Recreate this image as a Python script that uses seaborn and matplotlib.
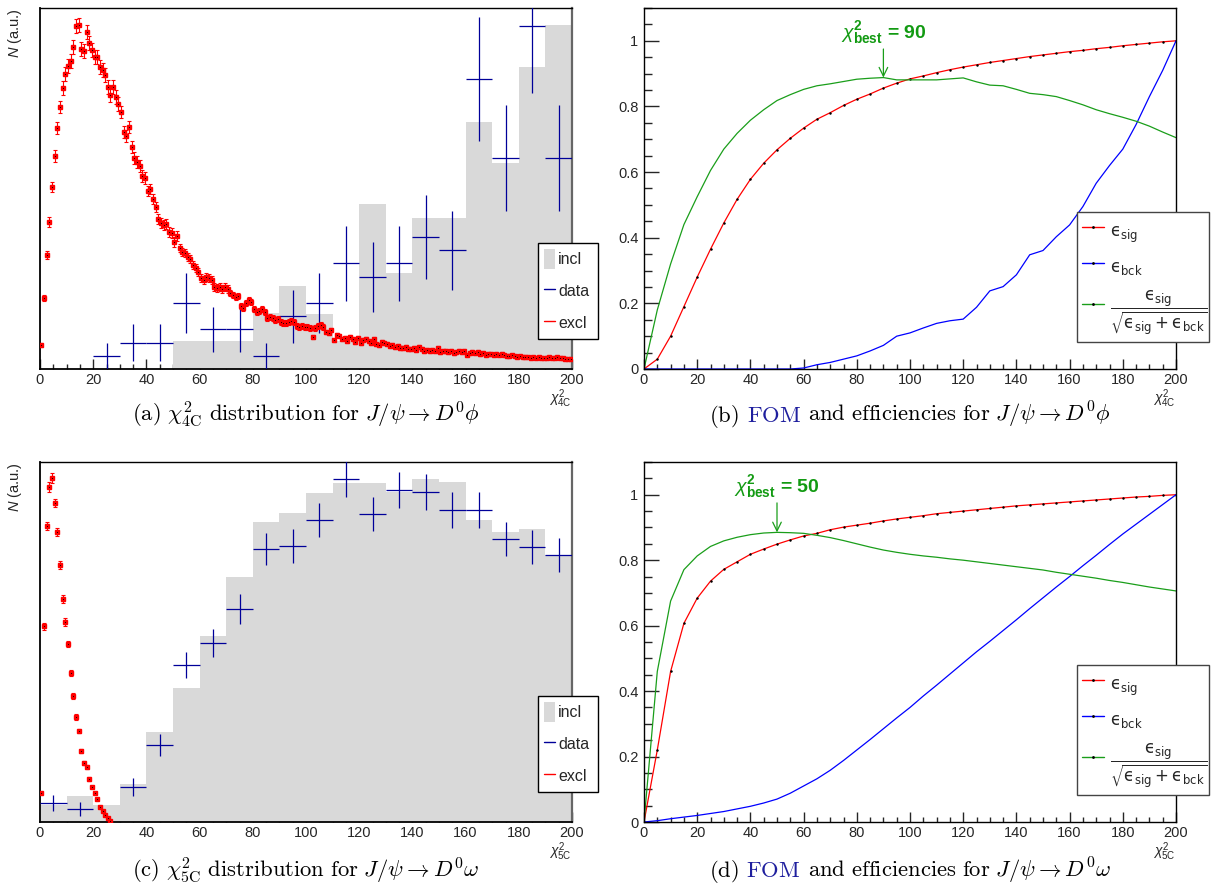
import numpy as np
import pandas as pd
import matplotlib
matplotlib.use("Agg")
import matplotlib.pyplot as plt
from matplotlib.ticker import MultipleLocator, FuncFormatter
from matplotlib.patches import Patch
from matplotlib.lines import Line2D
import seaborn as sns

sns.set_style("ticks")
plt.rcParams["font.family"] = ["Liberation Sans", "DejaVu Sans"]
plt.rcParams["mathtext.fontset"] = "custom"
plt.rcParams["mathtext.rm"] = "Liberation Sans"
plt.rcParams["mathtext.it"] = "Liberation Sans:italic"
plt.rcParams["mathtext.bf"] = "Liberation Sans:bold"
plt.rcParams["mathtext.sf"] = "Liberation Sans"
plt.rcParams["mathtext.fallback"] = "cm"

# ---------------------------------------------------------------- data
bin_edges = list(range(0, 201, 10))
bin_centres = [e + 5 for e in bin_edges[:-1]]

# J/psi -> D0 phi, chi2_4C (y in data counts)
incl_4c = [0, 0, 0, 0, 0, 2.12, 2.12, 2.12, 4.24, 6.29,
           4.17, 2.12, 12.5, 7.27, 11.44, 11.44, 18.71, 15.61, 22.88, 26.06]
data_4c_x = [25, 35, 45, 55, 65, 75, 85, 95, 105, 115,
             125, 135, 145, 155, 165, 175, 185, 195]
data_4c = [1, 2, 2, 5, 3, 3, 1, 4, 5, 8, 7, 8, 10, 9, 22, 16, 26, 16]
# exclusive MC shape, 1-unit bins starting at 0
excl_4c = [24, 71, 114, 147, 182, 213, 241, 262, 281, 295,
           303, 308, 322, 343, 344, 320, 318, 337, 326, 319,
           312, 312, 302, 299, 294, 282, 274, 282, 272, 265,
           257, 237, 233, 242, 222, 211, 207, 203, 193, 191,
           178, 180, 170, 162, 150, 146, 144, 145, 137, 136,
           127, 133, 121, 117, 116, 112, 110, 104, 101, 97,
           91, 89, 92, 91, 89, 82, 81, 82, 80, 82,
           80, 76, 74, 72, 73, 63, 61, 66, 69, 67,
           60, 57, 58, 60, 57, 51, 52, 51, 49, 50,
           47, 46, 46, 47, 48, 47, 43, 42, 43, 42,
           42, 41, 32, 41, 43, 44, 42, 37, 36, 39,
           29, 34, 33, 30, 31, 28, 32, 30, 27, 31,
           26, 29, 30, 28, 26, 30, 25, 24, 27, 26,
           25, 23, 24, 22, 23, 21, 21, 22, 20, 20,
           21, 19, 22, 20, 18, 19, 18, 19, 18, 21,
           17, 18, 18, 17, 18, 16, 17, 18, 17, 18,
           14, 16, 17, 16, 17, 15, 16, 14, 15, 15,
           14, 15, 14, 15, 14, 13, 13, 14, 13, 12,
           13, 12, 12, 12, 11, 12, 11, 12, 11, 11,
           11, 12, 11, 11, 12, 11, 11, 10, 10, 10]
excl_4c_norm = 13.2          # MC shape normalised to the data counts
excl_4c_rel_err = 0.40

# J/psi -> D0 omega, chi2_5C
incl_5c = [17, 26, 17, 38, 90, 134, 186, 245, 300, 309,
           329, 339, 339, 330, 343, 340, 302, 290, 293, 267]
data_5c_x = [5, 15, 35, 45, 55, 65, 75, 85, 95, 105,
             115, 125, 135, 145, 155, 165, 175, 185, 195]
data_5c = [19, 13, 35, 77, 157, 179, 213, 273, 276, 302,
           343, 308, 332, 330, 312, 312, 283, 275, 267]
data_5c_err = [8, 7, 9, 11, 13, 14, 15, 16, 17, 17,
               18, 17, 18, 18, 18, 18, 17, 17, 17]
excl_5c = [29, 196, 296, 335, 344, 319, 290, 257, 223, 200,
           178, 149, 126, 105, 91, 71, 59, 55, 43, 35,
           29, 23, 15, 11, 7, 4, 1]
excl_5c_norm = 1.0
excl_5c_rel_err = 0.25

# efficiency scans versus the chi2 cut
chi2_cut = list(range(0, 201, 5))
eff_sig_4c = [0.0, 0.03, 0.10, 0.19, 0.28, 0.365, 0.445, 0.517, 0.578, 0.627,
              0.668, 0.703, 0.734, 0.761, 0.781, 0.803, 0.822, 0.838, 0.856, 0.871,
              0.884, 0.893, 0.903, 0.912, 0.920, 0.927, 0.934, 0.940, 0.946, 0.952,
              0.957, 0.962, 0.967, 0.971, 0.976, 0.980, 0.985, 0.989, 0.993, 0.997, 1.0]
eff_bck_4c = [0.0, 0.0, 0.0, 0.0, 0.0, 0.0, 0.0, 0.0, 0.0, 0.0,
              0.0, 0.0, 0.003, 0.013, 0.02, 0.03, 0.04, 0.055, 0.072, 0.10,
              0.11, 0.125, 0.139, 0.147, 0.152, 0.188, 0.238, 0.251, 0.287, 0.348,
              0.361, 0.403, 0.439, 0.495, 0.566, 0.62, 0.67, 0.745, 0.83, 0.91, 1.0]
fom_4c = [0.0, 0.18, 0.32, 0.44, 0.525, 0.605, 0.67, 0.718, 0.758, 0.79,
          0.818, 0.836, 0.852, 0.863, 0.869, 0.876, 0.883, 0.886, 0.888, 0.881,
          0.881, 0.881, 0.881, 0.884, 0.887, 0.875, 0.865, 0.863, 0.852, 0.840,
          0.836, 0.830, 0.818, 0.805, 0.790, 0.778, 0.767, 0.755, 0.740, 0.722, 0.705]

eff_sig_5c = [0.0, 0.22, 0.46, 0.607, 0.684, 0.736, 0.772, 0.795, 0.818, 0.834,
              0.849, 0.862, 0.874, 0.882, 0.893, 0.901, 0.907, 0.913, 0.920, 0.926,
              0.931, 0.936, 0.942, 0.946, 0.950, 0.954, 0.958, 0.962, 0.966, 0.969,
              0.972, 0.975, 0.978, 0.981, 0.984, 0.987, 0.990, 0.993, 0.995, 0.998, 1.0]
eff_bck_5c = [0.0, 0.004, 0.01, 0.015, 0.02, 0.026, 0.032, 0.04, 0.048, 0.058,
              0.07, 0.088, 0.11, 0.132, 0.158, 0.188, 0.22, 0.252, 0.285, 0.318,
              0.35, 0.385, 0.418, 0.452, 0.486, 0.52, 0.552, 0.585, 0.618, 0.652,
              0.685, 0.718, 0.75, 0.783, 0.815, 0.848, 0.88, 0.91, 0.94, 0.97, 1.0]
fom_5c = [0.0, 0.46, 0.675, 0.771, 0.813, 0.842, 0.859, 0.870, 0.878, 0.883,
          0.885, 0.884, 0.882, 0.876, 0.869, 0.860, 0.850, 0.840, 0.831, 0.824,
          0.818, 0.813, 0.809, 0.804, 0.800, 0.795, 0.790, 0.785, 0.780, 0.775,
          0.770, 0.763, 0.757, 0.751, 0.745, 0.738, 0.732, 0.725, 0.718, 0.712, 0.706]

best_cut_4c, best_fom_4c = 90, 0.888
best_cut_5c, best_fom_5c = 50, 0.885

# ---------------------------------------------------------------- style
GRAY = "#d9d9d9"
NAVY = "#000099"
RED = "#ff0000"
BLUE = "#0000ff"
GREEN = "#1a9e1a"
GREEN_TXT = "#129a12"
LINK = "#1f1f9e"

W, H = 1214, 885
fig = plt.figure(figsize=(W / 100, H / 100), dpi=100)


def axes_px(l, t, r, b):
    return fig.add_axes([l / W, 1 - b / H, (r - l) / W, (b - t) / H])


def style_x(ax, xlabel):
    ax.set_xlim(0, 200)
    ax.xaxis.set_major_locator(MultipleLocator(20))
    ax.xaxis.set_minor_locator(MultipleLocator(5))
    ax.tick_params(axis="x", which="major", direction="in", length=7.5,
                   width=1.0, labelsize=10.5, pad=3, top=False)
    ax.tick_params(axis="x", which="minor", direction="in", length=3.8,
                   width=1.0, top=False)
    ax.set_xlabel(xlabel, loc="right", labelpad=0, fontsize=10)
    for s in ax.spines.values():
        s.set_color("black")
        s.set_linewidth(1.0)


def distribution(ax, incl, dx, dy, derr, excl, norm, rel_err, ymax, xlabel,
                 legend_box):
    hist_df = pd.DataFrame({"chi2": bin_centres, "weight": incl})
    sns.histplot(data=hist_df, x="chi2", weights="weight", bins=bin_edges,
                 element="bars", fill=True, color=GRAY, alpha=1, linewidth=0,
                 ax=ax)
    ax.errorbar(dx, dy, xerr=5, yerr=derr, fmt="none", ecolor=NAVY,
                elinewidth=0.9, capsize=0, zorder=3)
    excl = np.asarray(excl, dtype=float)
    ex = np.arange(len(excl)) + 0.5
    ey = excl / norm
    eerr = rel_err * np.sqrt(excl) / norm
    ax.errorbar(ex, ey, yerr=eerr, fmt="s", ms=2.6, mfc=RED, mec=RED,
                ecolor=RED, elinewidth=0.8, capsize=1.1, capthick=0.8,
                zorder=4)
    sns.scatterplot(x=ex, y=ey, s=0.6, color="black", linewidth=0,
                    ax=ax, zorder=5)
    ax.set_ylim(0, ymax)
    ax.set_ylabel("")
    ax.tick_params(axis="y", left=False, labelleft=False, right=False)
    style_x(ax, xlabel)
    ax.spines["right"].set_color("#666666")
    ax.spines["right"].set_linewidth(1.6)
    ax.spines["left"].set_linewidth(1.3)
    ax.spines["bottom"].set_linewidth(1.3)

    handles = [Patch(facecolor=GRAY, edgecolor="none"),
               Line2D([], [], color=NAVY, lw=1.0),
               Line2D([], [], color=RED, lw=1.0)]
    l, t, r, b = legend_box
    leg = ax.legend(handles, ["incl", "data", "excl"], loc="upper left",
                    bbox_to_anchor=(l / W, 1 - b / H, (r - l) / W, (b - t) / H),
                    bbox_transform=fig.transFigure, mode="expand",
                    borderaxespad=0, frameon=True, fancybox=False,
                    framealpha=1, edgecolor="black", fontsize=11.5,
                    handlelength=0.7, handleheight=1.6, handletextpad=0.2,
                    labelspacing=0.72, borderpad=0.36)
    leg.get_frame().set_linewidth(1.0)


def efficiency(ax, sig, bck, fom, best_cut, best_fom, xlabel, legend_box):
    scan = pd.DataFrame({"cut": chi2_cut, "sig": sig, "bck": bck, "fom": fom})
    sns.lineplot(data=scan, x="cut", y="sig", color=RED, lw=0.9, ax=ax,
                 marker="o", markersize=1.0, markerfacecolor="black",
                 markeredgecolor="black")
    sns.lineplot(data=scan, x="cut", y="bck", color=BLUE, lw=0.9, ax=ax)
    sns.lineplot(data=scan, x="cut", y="fom", color=GREEN, lw=0.9, ax=ax)
    ax.set_ylim(0, 1.1)
    ax.set_ylabel("")
    ax.yaxis.set_major_locator(MultipleLocator(0.2))
    ax.yaxis.set_minor_locator(MultipleLocator(0.05))
    ax.yaxis.set_major_formatter(FuncFormatter(lambda v, _: f"{v:g}"))
    ax.tick_params(axis="y", which="major", direction="in", length=11,
                   width=1.0, labelsize=10.5, pad=4, right=False)
    ax.tick_params(axis="y", which="minor", direction="in", length=5.5,
                   width=1.0, right=False)
    style_x(ax, xlabel)

    ax.annotate(r"$\chi^{\mathbf{2}}_{\mathbf{best}}$ = " + f"{best_cut}",
                xy=(best_cut, best_fom), xytext=(best_cut, 0.985),
                ha="center", va="bottom", color=GREEN_TXT, fontsize=14,
                fontweight="bold",
                arrowprops=dict(arrowstyle="->,head_length=0.45,head_width=0.22",
                                color=GREEN, lw=0.9, shrinkA=0, shrinkB=0))

    handles = [Line2D([], [], color=RED, lw=1.0, marker="o", ms=1.0,
                      mfc="black", mec="black"),
               Line2D([], [], color=BLUE, lw=1.0, marker="o", ms=1.0,
                      mfc="black", mec="black"),
               Line2D([], [], color=GREEN, lw=1.0, marker="o", ms=1.0,
                      mfc="black", mec="black")]
    eps = "\u03f5"   # lunate epsilon
    labels = [rf"$\mathrm{{{eps}}}_{{\mathrm{{sig}}}}$",
              rf"$\mathrm{{{eps}}}_{{\mathrm{{bck}}}}$",
              rf"$\dfrac{{\mathrm{{{eps}}}_{{\mathrm{{sig}}}}}}"
              rf"{{\sqrt{{\mathrm{{{eps}}}_{{\mathrm{{sig}}}}+"
              rf"\mathrm{{{eps}}}_{{\mathrm{{bck}}}}}}}}$"]
    l, t, r, b = legend_box
    leg = ax.legend(handles, labels, loc="upper left",
                    bbox_to_anchor=(l / W, 1 - b / H, (r - l) / W, (b - t) / H),
                    bbox_transform=fig.transFigure, mode="expand",
                    borderaxespad=0, frameon=True, fancybox=False,
                    framealpha=1, edgecolor="#444444", fontsize=12,
                    handlelength=1.32, handleheight=2.3, handletextpad=0.36,
                    labelspacing=0.41, borderpad=0.3)
    for t in leg.get_texts():
        t.set_math_fontfamily("dejavusans")
    leg.get_frame().set_linewidth(1.0)


def caption(y_px, x_centre_px, pieces, size=16.3):
    renderer = fig.canvas.get_renderer()
    texts = [fig.text(0, 1 - y_px / H, s, color=c, fontsize=size,
                      math_fontfamily="cm", va="baseline", ha="left")
             for s, c in pieces]
    widths = [t.get_window_extent(renderer).width for t in texts]
    gap = 0.33 * size * 100 / 72
    total = sum(widths) + gap * (len(texts) - 1)
    x = x_centre_px - total / 2
    for t, w in zip(texts, widths):
        t.set_x(x / W)
        x += w + gap


ax_a = axes_px(40, 8, 572, 369)
ax_b = axes_px(644, 8, 1176, 369)
ax_c = axes_px(40, 462, 572, 822)
ax_d = axes_px(644, 462, 1176, 822)

distribution(ax_a, incl_4c, data_4c_x, data_4c, np.sqrt(data_4c), excl_4c,
             excl_4c_norm, excl_4c_rel_err, 361 / 13.2,
             r"$\chi^{2}_{4\mathrm{C}}$", (538, 243, 598, 351))
distribution(ax_c, incl_5c, data_5c_x, data_5c, data_5c_err, excl_5c,
             excl_5c_norm, excl_5c_rel_err, 360,
             r"$\chi^{2}_{5\mathrm{C}}$", (538, 696, 598, 804))
efficiency(ax_b, eff_sig_4c, eff_bck_4c, fom_4c, best_cut_4c, best_fom_4c,
           r"$\chi^{2}_{4\mathrm{C}}$", (1077, 212, 1209, 351))
efficiency(ax_d, eff_sig_5c, eff_bck_5c, fom_5c, best_cut_5c, best_fom_5c,
           r"$\chi^{2}_{5\mathrm{C}}$", (1077, 665, 1209, 805))

for ytop in (8, 462):
    fig.text(15 / W, 1 - ytop / H, r"$N$ (a.u.)", rotation=90, ha="center",
             va="top", fontsize=10.5)

caption(422, 306, [(r"$\mathrm{(a)}\ \chi^2_{4\mathrm{C}}\ \mathrm{distribution\ for}"
                    r"\ J/\psi \rightarrow D^0\phi$", "black")])
caption(422, 910, [(r"$\mathrm{(b)}$", "black"), (r"$\mathrm{FOM}$", LINK),
                   (r"$\mathrm{and\ efficiencies\ for}\ J/\psi \rightarrow D^0\phi$",
                    "black")])
caption(877, 306, [(r"$\mathrm{(c)}\ \chi^2_{5\mathrm{C}}\ \mathrm{distribution\ for}"
                    r"\ J/\psi \rightarrow D^0\omega$", "black")])
caption(877, 910, [(r"$\mathrm{(d)}$", "black"), (r"$\mathrm{FOM}$", LINK),
                   (r"$\mathrm{and\ efficiencies\ for}\ J/\psi \rightarrow D^0\omega$",
                    "black")])

fig.savefig("out.png", dpi=100)
